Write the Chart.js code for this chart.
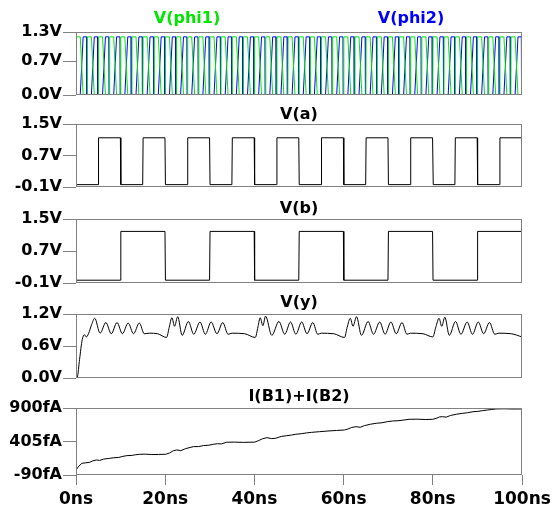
<!DOCTYPE html>
<html>
<head>
<meta charset="utf-8">
<script src="https://cdn.jsdelivr.net/npm/chart.js@4.4.1/dist/chart.umd.min.js"></script>
<style>
html, body { margin: 0; padding: 0; background: #fff; }
#wrap { position: relative; width: 552px; height: 515px; }
.panel { position: absolute; left: 0; top: 0; width: 552px; height: 515px; }
</style>
</head>
<body>
<div id="wrap">
  <div class="panel"><canvas id="c1"></canvas></div>
  <div class="panel"><canvas id="c2"></canvas></div>
  <div class="panel"><canvas id="c3"></canvas></div>
  <div class="panel"><canvas id="c4"></canvas></div>
  <div class="panel"><canvas id="c5"></canvas></div>
</div>
<script>
// time axis (ns)
const xTicks = [0, 20, 40, 60, 80, 100];
const xLabels = ['0ns', '20ns', '40ns', '60ns', '80ns', '100ns'];

// V(phi1) / V(phi2) clocks, 2.5ns period
const phi1T = [
  0, 0.05, 0.95, 1.6, 2.5, 2.55, 3.45, 4.1, 5, 5.05, 5.95, 6.6, 7.5, 7.55, 8.45, 9.1, 10, 10.05, 10.95, 11.6,
  12.5, 12.55, 13.45, 14.1, 15, 15.05, 15.95, 16.6, 17.5, 17.55, 18.45, 19.1, 20, 20.05, 20.95, 21.6,
  22.5, 22.55, 23.45, 24.1, 25, 25.05, 25.95, 26.6, 27.5, 27.55, 28.45, 29.1, 30, 30.05, 30.95, 31.6,
  32.5, 32.55, 33.45, 34.1, 35, 35.05, 35.95, 36.6, 37.5, 37.55, 38.45, 39.1, 40, 40.05, 40.95, 41.6,
  42.5, 42.55, 43.45, 44.1, 45, 45.05, 45.95, 46.6, 47.5, 47.55, 48.45, 49.1, 50, 50.05, 50.95, 51.6,
  52.5, 52.55, 53.45, 54.1, 55, 55.05, 55.95, 56.6, 57.5, 57.55, 58.45, 59.1, 60, 60.05, 60.95, 61.6,
  62.5, 62.55, 63.45, 64.1, 65, 65.05, 65.95, 66.6, 67.5, 67.55, 68.45, 69.1, 70, 70.05, 70.95, 71.6,
  72.5, 72.55, 73.45, 74.1, 75, 75.05, 75.95, 76.6, 77.5, 77.55, 78.45, 79.1, 80, 80.05, 80.95, 81.6,
  82.5, 82.55, 83.45, 84.1, 85, 85.05, 85.95, 86.6, 87.5, 87.55, 88.45, 89.1, 90, 90.05, 90.95, 91.6,
  92.5, 92.55, 93.45, 94.1, 95, 95.05, 95.95, 96.6, 97.5, 97.55, 98.45, 99.1, 100
];
const phi1V = [
  0, 1.2, 1.2, 0, 0, 1.2, 1.2, 0, 0, 1.2, 1.2, 0, 0, 1.2, 1.2, 0, 0, 1.2, 1.2, 0,
  0, 1.2, 1.2, 0, 0, 1.2, 1.2, 0, 0, 1.2, 1.2, 0, 0, 1.2, 1.2, 0,
  0, 1.2, 1.2, 0, 0, 1.2, 1.2, 0, 0, 1.2, 1.2, 0, 0, 1.2, 1.2, 0,
  0, 1.2, 1.2, 0, 0, 1.2, 1.2, 0, 0, 1.2, 1.2, 0, 0, 1.2, 1.2, 0,
  0, 1.2, 1.2, 0, 0, 1.2, 1.2, 0, 0, 1.2, 1.2, 0, 0, 1.2, 1.2, 0,
  0, 1.2, 1.2, 0, 0, 1.2, 1.2, 0, 0, 1.2, 1.2, 0, 0, 1.2, 1.2, 0,
  0, 1.2, 1.2, 0, 0, 1.2, 1.2, 0, 0, 1.2, 1.2, 0, 0, 1.2, 1.2, 0,
  0, 1.2, 1.2, 0, 0, 1.2, 1.2, 0, 0, 1.2, 1.2, 0, 0, 1.2, 1.2, 0,
  0, 1.2, 1.2, 0, 0, 1.2, 1.2, 0, 0, 1.2, 1.2, 0, 0, 1.2, 1.2, 0,
  0, 1.2, 1.2, 0, 0, 1.2, 1.2, 0, 0, 1.2, 1.2, 0, 0
];
const phi2T = [
  0, 0.95, 1.6, 2.35, 2.4, 3.45, 4.1, 4.85, 4.9, 5.95, 6.6, 7.35, 7.4, 8.45, 9.1, 9.85, 9.9,
  10.95, 11.6, 12.35, 12.4, 13.45, 14.1, 14.85, 14.9, 15.95, 16.6, 17.35, 17.4, 18.45, 19.1, 19.85, 19.9,
  20.95, 21.6, 22.35, 22.4, 23.45, 24.1, 24.85, 24.9, 25.95, 26.6, 27.35, 27.4, 28.45, 29.1, 29.85, 29.9,
  30.95, 31.6, 32.35, 32.4, 33.45, 34.1, 34.85, 34.9, 35.95, 36.6, 37.35, 37.4, 38.45, 39.1, 39.85, 39.9,
  40.95, 41.6, 42.35, 42.4, 43.45, 44.1, 44.85, 44.9, 45.95, 46.6, 47.35, 47.4, 48.45, 49.1, 49.85, 49.9,
  50.95, 51.6, 52.35, 52.4, 53.45, 54.1, 54.85, 54.9, 55.95, 56.6, 57.35, 57.4, 58.45, 59.1, 59.85, 59.9,
  60.95, 61.6, 62.35, 62.4, 63.45, 64.1, 64.85, 64.9, 65.95, 66.6, 67.35, 67.4, 68.45, 69.1, 69.85, 69.9,
  70.95, 71.6, 72.35, 72.4, 73.45, 74.1, 74.85, 74.9, 75.95, 76.6, 77.35, 77.4, 78.45, 79.1, 79.85, 79.9,
  80.95, 81.6, 82.35, 82.4, 83.45, 84.1, 84.85, 84.9, 85.95, 86.6, 87.35, 87.4, 88.45, 89.1, 89.85, 89.9,
  90.95, 91.6, 92.35, 92.4, 93.45, 94.1, 94.85, 94.9, 95.95, 96.6, 97.35, 97.4, 98.45, 99.1, 99.85, 99.9, 100
];
const phi2V = [
  0, 0, 1.2, 1.2, 0, 0, 1.2, 1.2, 0, 0, 1.2, 1.2, 0, 0, 1.2, 1.2, 0,
  0, 1.2, 1.2, 0, 0, 1.2, 1.2, 0, 0, 1.2, 1.2, 0, 0, 1.2, 1.2, 0,
  0, 1.2, 1.2, 0, 0, 1.2, 1.2, 0, 0, 1.2, 1.2, 0, 0, 1.2, 1.2, 0,
  0, 1.2, 1.2, 0, 0, 1.2, 1.2, 0, 0, 1.2, 1.2, 0, 0, 1.2, 1.2, 0,
  0, 1.2, 1.2, 0, 0, 1.2, 1.2, 0, 0, 1.2, 1.2, 0, 0, 1.2, 1.2, 0,
  0, 1.2, 1.2, 0, 0, 1.2, 1.2, 0, 0, 1.2, 1.2, 0, 0, 1.2, 1.2, 0,
  0, 1.2, 1.2, 0, 0, 1.2, 1.2, 0, 0, 1.2, 1.2, 0, 0, 1.2, 1.2, 0,
  0, 1.2, 1.2, 0, 0, 1.2, 1.2, 0, 0, 1.2, 1.2, 0, 0, 1.2, 1.2, 0,
  0, 1.2, 1.2, 0, 0, 1.2, 1.2, 0, 0, 1.2, 1.2, 0, 0, 1.2, 1.2, 0,
  0, 1.2, 1.2, 0, 0, 1.2, 1.2, 0, 0, 1.2, 1.2, 0, 0, 1.2, 1.2, 0, 0
];
const phiTicks = [0, 0.7, 1.3];
const phiLabels = ['0.0V', '0.7V', '1.3V'];

// V(a)
const aT = [0, 4.95, 5.05, 9.95, 10.05, 14.95, 15.05, 19.95, 20.05, 24.95, 25.05, 29.95, 30.05,
  34.95, 35.05, 39.95, 40.05, 44.95, 45.05, 49.95, 50.05, 54.95, 55.05, 59.95, 60.05, 64.95, 65.05,
  69.95, 70.05, 74.95, 75.05, 79.95, 80.1, 84.95, 85.05, 89.95, 90.05, 94.95, 95.05, 100];
const aV = [-0.04, -0.04, 1.15, 1.15, -0.04, -0.04, 1.15, 1.15, -0.04, -0.04, 1.15, 1.15, -0.04,
  -0.04, 1.15, 1.15, -0.04, -0.04, 1.15, 1.15, -0.04, -0.04, 1.15, 1.15, -0.04, -0.04, 1.15,
  1.15, -0.04, -0.04, 1.15, 1.15, -0.04, -0.04, 1.15, 1.15, -0.04, -0.04, 1.15, 1.15];
const abTicks = [-0.1, 0.7, 1.5];
const abLabels = ['-0.1V', '0.7V', '1.5V'];

// V(b)
const bT = [0, 9.95, 10.05, 19.95, 20.05, 29.95, 30.05, 39.95, 40.05, 49.95, 50.05,
  59.95, 60.05, 69.95, 70.05, 79.95, 80.05, 89.95, 90.05, 100];
const bV = [-0.03, -0.03, 1.19, 1.19, -0.03, -0.03, 1.19, 1.19, -0.03, -0.03, 1.19,
  1.19, -0.03, -0.03, 1.19, 1.19, -0.03, -0.03, 1.19, 1.19];

// V(y)
const yT = [0, 0.3, 0.8, 1.4, 1.9, 2.3, 2.8, 3.5, 4.2, 5.4, 6.7, 7.9, 9.2, 10.4, 11.7, 12.9, 14.2, 15.3, 16.5, 18.3, 20.3,
  20.9, 21.5, 22.1, 22.8, 23.8, 25.2, 26.4, 27.8, 29.0, 30.3, 31.6, 32.9, 34.1, 35.0, 37.8, 40.2,
  40.8, 41.3, 41.9, 42.5, 43.9, 45.5, 46.8, 48.1, 49.3, 50.6, 51.8, 53.1, 54.2, 55.0, 57.8, 60.2,
  60.8, 61.5, 62.1, 62.9, 64.0, 65.5, 66.7, 68.1, 69.3, 70.6, 71.8, 73.1, 74.2, 75.0, 77.8, 80.0,
  80.7, 81.4, 82.0, 82.7, 83.7, 85.1, 86.3, 87.7, 88.9, 90.2, 91.4, 92.7, 93.9, 94.8, 97.6, 100];
const yV = [0, 0.02, 0.35, 0.72, 0.81, 0.77, 0.83, 1.0, 1.12, 0.84, 1.04, 0.83, 1.04, 0.83, 1.03, 0.83, 1.03, 0.83, 0.84, 0.83, 0.76,
  0.95, 1.13, 0.97, 1.15, 0.80, 1.06, 0.82, 1.05, 0.82, 1.05, 0.83, 1.04, 0.82, 0.84, 0.83, 0.76,
  0.96, 1.13, 0.98, 1.16, 0.80, 1.06, 0.82, 1.05, 0.82, 1.05, 0.83, 1.04, 0.82, 0.84, 0.83, 0.76,
  0.95, 1.12, 0.97, 1.15, 0.80, 1.06, 0.82, 1.05, 0.82, 1.05, 0.83, 1.04, 0.82, 0.84, 0.83, 0.77,
  0.96, 1.12, 0.97, 1.14, 0.80, 1.06, 0.82, 1.05, 0.82, 1.05, 0.83, 1.04, 0.82, 0.84, 0.83, 0.77];
const yTicks = [0, 0.6, 1.2];
const yLabels = ['0.0V', '0.6V', '1.2V'];

// I(B1)+I(B2) in fA
const iT = [0, 0.5, 1.3, 2.2, 3.1, 3.8, 4.6, 5.3, 6.2, 7.6, 8.5, 9.6, 10.5, 11.4, 12.6, 13.4, 14.3, 15.5, 17, 18.5, 20.1,
  21, 21.8, 22.6, 23.5, 24.6, 26.3, 27.5, 28.6, 29.8, 30.8, 31.7, 32.6, 33.8, 35.5, 37.5, 40.1,
  41, 41.8, 42.8, 43.8, 44.8, 46, 47.2, 48.3, 49.3, 50.5, 51.7, 52.8, 54.6, 56.5, 58.4, 60.2,
  61, 61.8, 62.8, 63.7, 64.7, 66, 67.3, 68.6, 69.8, 71, 72.2, 73.5, 74.7, 76.5, 78.3, 80,
  80.9, 81.5, 82.2, 83, 84, 85.3, 86.7, 87.8, 89, 90.1, 91.2, 92.2, 93.2, 94.2, 96, 98, 100];
const iV = [-16, 30, 83, 90, 98, 120, 132, 125, 145, 157, 165, 170, 185, 196, 200, 210, 216, 218, 212, 214, 216,
  236, 268, 280, 270, 300, 329, 330, 345, 350, 364, 372, 370, 394, 396, 392, 396,
  420, 445, 462, 448, 453, 480, 490, 500, 512, 520, 532, 540, 550, 560, 568, 575,
  590, 612, 624, 615, 640, 660, 674, 682, 698, 708, 712, 722, 733, 735, 730, 733,
  750, 768, 772, 765, 790, 808, 822, 830, 845, 850, 861, 870, 878, 886, 888, 885, 886];
const iTicks = [-90, 405, 900];
const iLabels = ['-90fA', '405fA', '900fA'];

const FONT = 'DejaVu Sans';
const GREEN = '#00e600';
const BLUE = '#0000ff';

function pts(T, V) {
  return T.map((t, i) => ({ x: t, y: V[i] }));
}

// grey frame around each plot
const boxPlugin = {
  id: 'box',
  afterDatasetsDraw(chart) {
    const a = chart.chartArea, c = chart.ctx;
    c.save();
    c.strokeStyle = '#808080';
    c.lineWidth = 1;
    c.strokeRect(Math.round(a.left) + 0.5, Math.round(a.top) + 0.5,
      Math.round(a.right - a.left) - 1, Math.round(a.bottom - a.top) - 1);
    c.restore();
  }
};

// trace names above each plot
const namePlugin = {
  id: 'names',
  afterDraw(chart, args, opts) {
    const c = chart.ctx;
    c.save();
    c.font = 'bold 16px "' + FONT + '"';
    c.textAlign = 'center';
    c.textBaseline = 'middle';
    (opts.items || []).forEach(it => {
      c.fillStyle = it.color;
      c.fillText(it.text, it.x, it.y);
    });
    c.restore();
  }
};

function makeChart(id, datasets, yMin, yMax, ticks, labels, top, bottom, names, showX) {
  return new Chart(document.getElementById(id), {
    type: 'line',
    data: { datasets: datasets },
    plugins: [boxPlugin, namePlugin],
    options: {
      responsive: true,
      maintainAspectRatio: false,
      animation: false,
      events: [],
      layout: { padding: { top: top, bottom: showX ? 0 : 515 - bottom, left: 0, right: 30 } },
      elements: { point: { radius: 0 }, line: { borderWidth: 1, tension: 0 } },
      plugins: {
        legend: { display: false },
        tooltip: { enabled: false },
        names: { items: names }
      },
      scales: {
        x: {
          type: 'linear', min: 0, max: 100, display: showX,
          afterFit(s) {
            s.height = showX ? 40 : 0;
            s.paddingLeft = 0;
            s.paddingRight = 0;
          },
          afterBuildTicks(s) { s.ticks = xTicks.map(v => ({ value: v })); },
          ticks: {
            callback: (v, i) => xLabels[i],
            font: { family: FONT, weight: 'bold', size: 17 },
            color: '#000', padding: 4, maxRotation: 0, autoSkip: false
          },
          grid: { drawOnChartArea: false, tickLength: 10, color: '#808080' },
          border: { display: false }
        },
        y: {
          type: 'linear', min: yMin, max: yMax,
          afterFit(s) { s.width = 76; },
          afterBuildTicks(s) { s.ticks = ticks.map(v => ({ value: v })); },
          ticks: {
            callback: (v, i) => labels[i],
            font: { family: FONT, weight: 'bold', size: 16 },
            color: '#000', padding: 1, autoSkip: false
          },
          grid: { drawOnChartArea: false, tickLength: 13, color: '#808080' },
          border: { display: false }
        }
      }
    }
  });
}

makeChart('c1', [
  { label: 'V(phi1)', data: pts(phi1T, phi1V), borderColor: GREEN },
  { label: 'V(phi2)', data: pts(phi2T, phi2V), borderColor: BLUE }
], 0, 1.3, phiTicks, phiLabels, 32, 95,
  [{ text: 'V(phi1)', color: GREEN, x: 187, y: 18.5 }, { text: 'V(phi2)', color: BLUE, x: 411, y: 18.5 }], false);

makeChart('c2', [
  { label: 'V(a)', data: pts(aT, aV), borderColor: '#000' }
], -0.1, 1.5, abTicks, abLabels, 124, 187,
  [{ text: 'V(a)', color: '#000', x: 299, y: 114.5 }], false);

makeChart('c3', [
  { label: 'V(b)', data: pts(bT, bV), borderColor: '#000' }
], -0.1, 1.5, abTicks, abLabels, 219, 283,
  [{ text: 'V(b)', color: '#000', x: 299, y: 208.5 }], false);

makeChart('c4', [
  { label: 'V(y)', data: pts(yT, yV), borderColor: '#000', cubicInterpolationMode: 'monotone' }
], 0, 1.2, yTicks, yLabels, 314, 378,
  [{ text: 'V(y)', color: '#000', x: 299, y: 302.5 }], false);

makeChart('c5', [
  { label: 'I(B1)+I(B2)', data: pts(iT, iV), borderColor: '#000' }
], -90, 900, iTicks, iLabels, 408, 475,
  [{ text: 'I(B1)+I(B2)', color: '#000', x: 299, y: 396.5 }], true);
</script>
</body>
</html>
